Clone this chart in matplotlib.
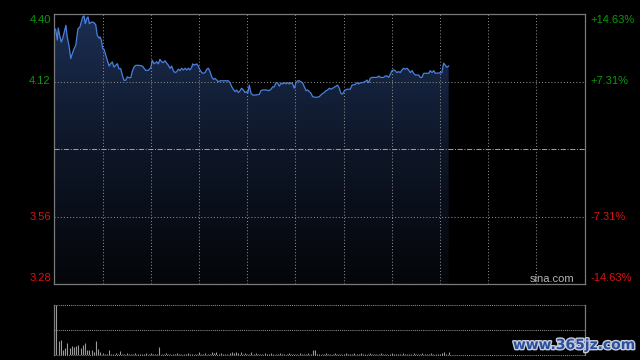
import numpy as np
import matplotlib
matplotlib.use("Agg")
import matplotlib.pyplot as plt
from matplotlib.colors import LinearSegmentedColormap
import matplotlib.patheffects as pe

# ---- data ----
times = [0, 0.6, 1.4, 1.8, 2.6, 3.2, 3.8, 4.7, 5.3, 5.9, 6.7, 7.5, 8.2, 9.0, 9.8, 10.2, 10.8, 11.7, 12.3, 13.0,
         13.6, 14.1, 14.8, 15.4, 16.0, 16.6, 17.3, 18.1, 18.9, 19.6, 20.4, 20.9, 21.5, 22.1, 22.7, 23.5, 24.2, 25.0,
         25.7, 26.5, 27.2, 28.0, 28.8, 29.5, 30.3, 31.0, 31.8, 32.6, 33.3, 34.1, 34.9, 35.6, 36.4, 37.2, 38.7, 40.2,
         41.7, 42.8, 44.0, 44.7, 45.5,
         46.0, 46.7, 47.5, 48.2, 49.0, 49.7, 50.5, 51.3, 52.0, 52.8, 53.6, 54.3, 55.1, 55.9, 56.6, 57.4, 58.1, 58.9,
         59.7, 60.4, 61.2, 61.9, 62.7, 63.2, 63.9, 65.0, 65.7, 66.5, 67.3, 68.0, 68.8, 69.6, 70.3, 71.1, 71.8, 72.6,
         73.3, 74.1, 74.8, 75.6, 77.9, 79.4, 80.2, 81.0, 81.7, 82.5, 83.2, 84.0, 84.8, 85.5, 86.3, 87.0, 87.8,
         88.3, 89.0, 89.8, 90.5, 92.1, 93.6, 94.3, 95.1, 96.6, 98.1, 98.9, 99.7, 100.4, 101.2, 102.0, 102.7, 103.5,
         104.2, 105.0, 105.7, 106.5, 107.3, 108.0, 108.8, 109.5, 110.3, 111.1, 111.8, 112.6, 113.4, 114.1, 114.9,
         115.6, 116.4, 117.2, 117.9, 119.4, 120.9, 121.7, 122.5, 123.2, 124.0, 124.8, 125.5, 126.3, 127.1, 127.8,
         128.6, 129.3, 130.1, 130.8, 131.6, 132.4,
         133.6, 135.1, 135.9, 137.4, 138.2, 138.9, 139.7, 140.4, 141.9, 142.7, 143.5, 144.2, 145.0, 147.3, 148.1,
         148.8, 150.3, 151.1, 151.8, 152.6, 153.4, 154.1, 154.9, 155.6, 156.4, 157.2, 157.9, 158.7, 159.5, 160.2,
         161.0, 161.7, 162.5, 163.3, 164.0, 164.8, 166.3, 167.0, 167.8, 168.6, 170.9, 171.6, 172.4, 173.2, 173.9,
         176.9, 177.7, 178.4, 179.2, 180.0]

prices = [4.339, 4.337, 4.292, 4.342, 4.305, 4.284, 4.298, 4.332, 4.353, 4.305, 4.270, 4.215, 4.235, 4.256, 4.270,
          4.298, 4.339, 4.346, 4.367, 4.388, 4.392, 4.360, 4.381, 4.388, 4.360, 4.364, 4.367, 4.364, 4.356, 4.312,
          4.300, 4.305, 4.291, 4.256, 4.254, 4.229, 4.208, 4.184, 4.194, 4.201, 4.180, 4.187, 4.194, 4.173, 4.173,
          4.148, 4.125, 4.125, 4.139, 4.136, 4.136, 4.162, 4.180, 4.187, 4.187, 4.184, 4.166, 4.166, 4.176, 4.208,
          4.194,
          4.196, 4.202, 4.193, 4.212, 4.202, 4.198, 4.206, 4.196, 4.188, 4.175, 4.184, 4.165, 4.157, 4.161, 4.171,
          4.165, 4.175, 4.168, 4.175, 4.168, 4.175, 4.168, 4.179, 4.193, 4.188, 4.193, 4.184, 4.168, 4.157, 4.154,
          4.157, 4.171, 4.175, 4.161, 4.140, 4.129, 4.133, 4.126, 4.119, 4.123, 4.123, 4.123, 4.115, 4.098, 4.088,
          4.078, 4.085, 4.074, 4.082, 4.092, 4.085, 4.074, 4.078,
          4.071, 4.105, 4.071, 4.064, 4.064, 4.067, 4.082, 4.085, 4.085, 4.082, 4.088, 4.098, 4.098, 4.115, 4.113,
          4.101, 4.113, 4.110, 4.115, 4.110, 4.115, 4.110, 4.115, 4.110, 4.092, 4.115, 4.123, 4.123, 4.119, 4.113,
          4.098, 4.082, 4.085, 4.078, 4.071, 4.057, 4.054, 4.057, 4.064, 4.071, 4.074, 4.082, 4.085, 4.092, 4.088,
          4.092, 4.096, 4.101, 4.105, 4.092, 4.071, 4.068, 4.082,
          4.088, 4.088, 4.105, 4.108, 4.115, 4.110, 4.115, 4.115, 4.119, 4.126, 4.115, 4.133, 4.137, 4.137, 4.143,
          4.137, 4.137, 4.143, 4.143, 4.137, 4.151, 4.165, 4.168, 4.165, 4.157, 4.161, 4.157, 4.168, 4.175, 4.171,
          4.175, 4.168, 4.157, 4.165, 4.154, 4.147, 4.147, 4.137, 4.137, 4.154, 4.154, 4.165, 4.157, 4.165, 4.154,
          4.157, 4.196, 4.188, 4.179, 4.184]

volumes = [73, 100, 29, 30, 11, 15, 25, 15, 18, 17, 19, 20, 15, 21, 25, 10, 11, 10, 7, 29, 12, 7, 5, 3, 3, 10, 3, 3, 5, 3, 8,
           3, 2, 4, 3, 2, 3, 4, 2, 3, 3, 2, 4, 3, 5, 3, 2, 3, 17, 3, 2, 4, 3, 2, 3, 3, 4, 2, 3, 3, 2, 4, 3, 3, 2, 3,
           7, 3, 2, 4, 3, 3, 7, 5, 7, 3, 4, 3, 2, 3, 4, 7, 5, 7, 5, 7, 3, 4, 3, 2, 7, 3, 4, 3, 3, 2, 4, 3, 3, 4, 3,
           3, 2, 4, 3, 3, 2, 4, 3, 3, 2, 3, 4, 2, 3, 3, 4, 3, 11, 10, 2, 3, 3, 2, 4, 3, 3, 2, 4, 3, 3, 2, 3, 4, 2, 3, 3, 4, 3, 2, 4,
           3, 2, 3, 4, 3, 2, 3, 3, 4, 2, 3, 3, 2, 4, 3, 3, 2, 3, 4, 3, 2, 3, 3, 4, 2, 3, 3, 4, 3, 2, 3, 4, 3, 2, 3, 3, 4, 7, 3, 6]

prev_close = 3.84
left_ticks = [4.40, 4.12, 3.56, 3.28]
left_labels = ["4.40", "4.12", "3.56", "3.28"]
right_labels = ["+14.63%", "+7.31%", "-7.31%", "-14.63%"]
label_colors = ["#0a9a0a", "#0a9a0a", "#dd1111", "#dd1111"]
total_minutes = 242
n_grid = 11

assert len(times) == len(prices)

plt.rcParams['font.family'] = ['Liberation Sans', 'DejaVu Sans']

W, H = 640, 360
fig = plt.figure(figsize=(6.4, 3.6), dpi=100, facecolor='black')

def rect(l, t, r, b):
    return [l / W, 1 - b / H, (r - l) / W, (b - t) / H]

ax = fig.add_axes(rect(54.3, 14, 584.5, 284))
ax.set_facecolor('black')
ymin, ymax = left_ticks[-1], left_ticks[0]

# gradient fill under the price line
poly = ax.fill_between(times, prices, ymin, color='none', lw=0)
grad = np.linspace(0, 1, 256).reshape(-1, 1)
cmap = LinearSegmentedColormap.from_list('g', ['#040609', '#0e1627', '#1b2e52'])
im = ax.imshow(grad, extent=[0, total_minutes, ymin, ymax], origin='lower', aspect='auto',
               cmap=cmap, zorder=1, interpolation='bilinear')
im.set_clip_path(poly.get_paths()[0], transform=ax.transData)

ax.plot(times, prices, color='#4a80dd', lw=0.9, zorder=4)

ax.set_xlim(0, total_minutes)
ax.set_ylim(ymin, ymax)

grid_kw = dict(color='#8a8a8a', lw=0.75, ls=(0, (1, 2)), zorder=3)
for k in range(1, n_grid):
    ax.axvline(total_minutes * k / n_grid, **grid_kw)
for v in left_ticks[1:-1]:
    ax.axhline(v, **grid_kw)
ax.axhline(prev_close, color='#9a9a9a', lw=0.75, ls=(0, (5, 1.5, 1, 1.5)), zorder=3)

ax.set_xticks([])
ax.set_yticks([])
for s in ax.spines.values():
    s.set_color('#7a7a7a')
    s.set_linewidth(0.9)

# axis labels
for i, (v, lab, rl, c) in enumerate(zip(left_ticks, left_labels, right_labels, label_colors)):
    if i == 0:
        va, dy = 'top', -1
    elif i == len(left_ticks) - 1:
        va, dy = 'bottom', 1
    else:
        va, dy = 'center', 0
    ax.annotate(lab, xy=(0, v), xycoords=('axes fraction', 'data'), xytext=(-2.5, dy),
                textcoords='offset points', ha='right', va=va, color=c, fontsize=8)
    ax.annotate(rl, xy=(1, v), xycoords=('axes fraction', 'data'), xytext=(4, dy),
                textcoords='offset points', ha='left', va=va, color=c, fontsize=8)

fig.text(552 / W, 1 - 279 / H, "sina.com", color='#b4b4b4', fontsize=8, ha='center', va='center')

# volume panel
axv = fig.add_axes(rect(54.3, 305, 584.5, 355))
axv.set_facecolor('black')
xv = np.arange(len(volumes))
axv.vlines(xv, 0, volumes, color='#9a9a9a', lw=0.8)
axv.set_xlim(0, total_minutes)
axv.set_ylim(0, 100)
axv.set_xticks([])
axv.set_yticks([])
for side in ['top', 'bottom']:
    axv.spines[side].set_visible(False)
for side in ['left', 'right']:
    axv.spines[side].set_color('#7a7a7a')
    axv.spines[side].set_linewidth(0.9)
for yv in [0, 50, 100]:
    axv.axhline(yv, color='#8a8a8a', lw=0.75, ls=(0, (1, 1)), clip_on=False)

# watermark
fig.text(574 / W, 1 - 345 / H, "www.365jz.com", color='#2b4f9e', fontsize=10, fontweight='bold',
         family='DejaVu Sans', ha='center', va='center',
         path_effects=[pe.withStroke(linewidth=2, foreground='#c4ccdc')])

fig.savefig('out.png', dpi=100, facecolor='black')
